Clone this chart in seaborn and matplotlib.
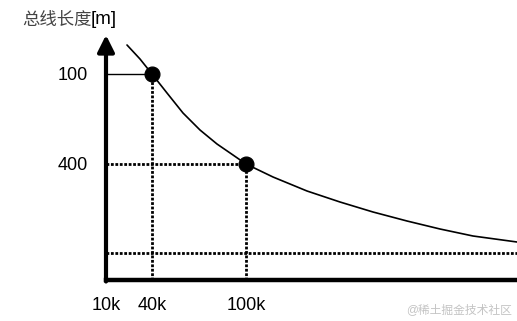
import matplotlib
matplotlib.use("Agg")
import matplotlib.pyplot as plt
import seaborn as sns
import pandas as pd

# Schematic curve (bus length vs. rate) in axis units
curve_x = [21, 34, 46, 61, 77, 94, 111, 127, 140, 167, 201, 234, 267, 301, 334, 367, 411]
curve_y = [235, 221, 206, 187, 167, 150, 136, 125, 116, 103, 89, 78, 68, 59, 51, 44, 38]

# Marked points
point_x = [46, 140]
point_y = [206, 116]

# Axis labels / ticks
x_tick_pos = [0, 46, 140]
x_tick_labels = ["10k", "40k", "100k"]
y_tick_pos = [206, 116]
y_tick_labels = ["100", "400"]
min_level = 27
y_label_cjk = "总线长度"
y_label_unit = "[m]"
watermark = "@稀土掘金技术社区"

sns.set_style("white")
plt.rcParams["font.family"] = ["Liberation Sans", "Noto Sans CJK SC", "DejaVu Sans"]

W, H = 517, 321
fig = plt.figure(figsize=(W / 100, H / 100), dpi=100)
left_px, bottom_px, top_px = 106, 280, 36
ax = fig.add_axes([left_px / W, (H - bottom_px) / H, (W - left_px) / W, (bottom_px - top_px) / H])
ax.set_xlim(0, W - left_px)
ax.set_ylim(0, bottom_px - top_px)

curve = pd.DataFrame({"x": curve_x, "y": curve_y})
pts = pd.DataFrame({"x": point_x, "y": point_y})

dot = (0, (1.0, 0.6))
# dotted guides
ax.plot([point_x[0], point_x[0]], [0, point_y[0]], color="black", lw=2, ls=dot)
ax.plot([point_x[1], point_x[1]], [0, point_y[1]], color="black", lw=2, ls=dot)
ax.plot([0, point_x[1]], [point_y[1], point_y[1]], color="black", lw=2, ls=dot)
ax.plot([0, W - left_px], [min_level, min_level], color="black", lw=2, ls=dot)
# solid guide to first point
ax.plot([0, point_x[0]], [point_y[0], point_y[0]], color="black", lw=1)

sns.lineplot(data=curve, x="x", y="y", ax=ax, color="black", lw=1.2, sort=False)
sns.scatterplot(data=pts, x="x", y="y", ax=ax, color="black", s=115, edgecolor="black", zorder=5)

for s in ["top", "right", "left"]:
    ax.spines[s].set_visible(False)
ax.spines["bottom"].set_linewidth(3.2)
ax.spines["bottom"].set_color("black")

ax.annotate("", xy=(0, bottom_px - top_px + 1), xytext=(0, -1.5),
            arrowprops=dict(arrowstyle="-|>,head_length=1.0,head_width=0.5", lw=3, color="black",
                            shrinkA=0, shrinkB=0), annotation_clip=False)

ax.set_xticks(x_tick_pos)
ax.set_xticklabels(x_tick_labels)
ax.set_yticks(y_tick_pos)
ax.set_yticklabels(y_tick_labels)
ax.tick_params(axis="x", length=0, pad=12, labelsize=13, labelcolor="black")
ax.tick_params(axis="y", length=0, pad=13, labelsize=13, labelcolor="black")
ax.set_xlabel("")
ax.set_ylabel("")

fig.text(22 / W, 1 - 20 / H, y_label_cjk, ha="left", va="center", fontsize=12.5, color="#444444")
fig.text(117 / W, 1 - 19 / H, y_label_unit, ha="right", va="center", fontsize=13.5, color="black")
fig.text(512 / W, 1 - 310 / H, watermark, ha="right", va="center", fontsize=8.5, color="#c4c4c4")

fig.savefig("out.png", dpi=100)
